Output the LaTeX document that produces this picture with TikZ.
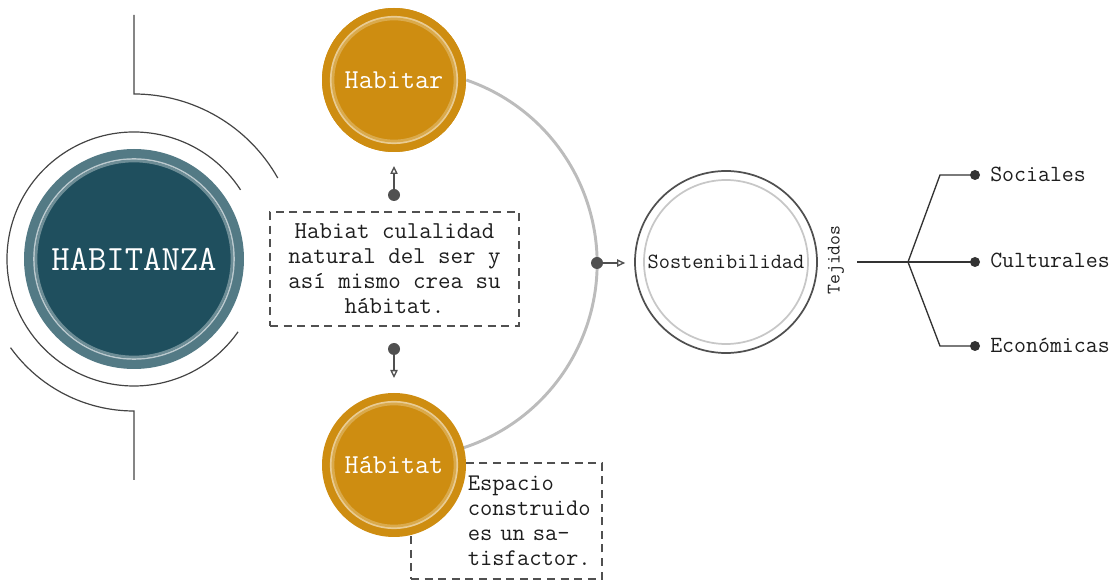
\documentclass[tikz,border=0pt]{standalone}
\usepackage{fontspec}
\usetikzlibrary{arrows.meta,calc}
\definecolor{gold}{RGB}{206,141,17}
\definecolor{tealout}{RGB}{83,122,133}
\definecolor{tealin}{RGB}{31,79,94}
\definecolor{linegray}{RGB}{80,80,80}
\definecolor{arcgray}{RGB}{188,188,188}
\definecolor{txt}{RGB}{30,30,30}
\newcommand\mono[1]{\ttfamily\fontsize{#1}{18.75}\selectfont}
\begin{document}
\begin{tikzpicture}[x=0.75pt,y=-0.75pt,
  thin/.style={draw=linegray!85!black,line width=0.9pt},
  goldc/.style={circle,fill=gold,minimum size=108pt,inner sep=0pt,text=white,font=\mono{20.5}},
  dashbox/.style={draw=linegray,dash pattern=on 6pt off 4.2pt,line width=0.9pt,text=txt},
  conn/.style={draw=linegray,line width=1pt,-{Triangle[open,length=6pt,width=5.5pt]}},
  dotc/.style={fill=linegray},
  arcline/.style={draw=arcgray,line width=2.2pt},
  tree/.style={draw=black!80,line width=1pt},
  leaf/.style={anchor=west,inner sep=0pt,text=txt,font=\mono{17.4}}]
\useasboundingbox (0,0) rectangle (1115,584);

% HABITANZA
\node[circle,fill=tealout,minimum size=165pt,inner sep=0pt] (hab) at (134,259) {};
\fill[tealin] (hab.center) circle[radius=100];
\draw[white!70!tealin,line width=1.2pt] (hab.center) circle[radius=100];
\draw[white!35!tealin,line width=2pt] (hab.center) circle[radius=98];
\node[text=white,font=\mono{26.7}] (habt) at (hab.center) {HABITANZA};
\draw[thin] (hab.center) ++(-33:127) arc[start angle=-33,end angle=-325,radius=127];
\coordinate (topend) at (134,15);
\draw[thin] (topend) -- (134,94) arc[start angle=-90,end angle=-29.4,radius=165];
\coordinate (botend) at (134,480);
\draw[thin] (hab.center) ++(144.3:152) arc[start angle=144.3,end angle=90,radius=152] -- (botend);

% description box
\node[dashbox,minimum width=186.75pt,minimum height=85.5pt,align=center,font=\mono{18.2}] (desc) at (394.5,269)
  {Habiat culalidad\\natural del ser y\\así mismo crea su\\hábitat.};

% Espacio box (behind Habitat circle)
\node[dashbox,minimum width=143.25pt,minimum height=87pt,text width=136pt,inner xsep=3.6pt,font=\mono{17.9}] (esp) at (506.5,521)
  {\leftskip=39pt\relax Espacio\\construido\\es un sa-\\tisfactor.\par};

% grey arc connecting Habitar and Hábitat
\node[goldc] (habitar) at (394,80) {};
\draw[arcline] (habitar.east) arc[start angle=-71,end angle=73,radius=194];

% circles
\node[goldc] (habitar) at (394,80) {Habitar};
\draw[white!55!gold,line width=1.6pt] (habitar.center) circle[radius=63];
\draw[white!25!gold,line width=2pt] (habitar.center) circle[radius=61];
\node[goldc] (habitat) at (394,465) {Hábitat};
\draw[white!55!gold,line width=1.6pt] (habitat.center) circle[radius=63];
\draw[white!25!gold,line width=2pt] (habitat.center) circle[radius=61];

% small arrows around description
\coordinate (d1) at (394,195);
\coordinate (a1) at (394,166);
\coordinate (d2) at (394,349);
\coordinate (a2) at (394,378);
\draw[conn] (d1) -- (a1);
\fill[dotc] (d1) circle[radius=6];
\draw[conn] (d2) -- (a2);
\fill[dotc] (d2) circle[radius=6];

% Sostenibilidad
\node[circle,draw=linegray,line width=1.3pt,minimum size=136.5pt,inner sep=0pt,text=txt,font=\mono{16.3}] (sost) at (726,262) {Sostenibilidad};
\draw[black!22,line width=1.3pt] (sost.center) circle[radius=82];
\coordinate (d3) at (597,263);
\draw[conn] (d3) -- ($(sost.west)+(-9,1)$);
\fill[dotc] (d3) circle[radius=6];

% Tejidos
\node[rotate=90,text=txt,font=\mono{14.4},inner sep=0pt] (tej) at (836,260) {Tejidos};

% tree
\coordinate (t0) at (857,262);
\coordinate (tb) at (908,262);
\coordinate (ds) at (975,175);
\coordinate (dc) at (975,262);
\coordinate (de) at (975,346);
\draw[tree] (t0) -- (tb);
\draw[tree] (tb) -- (940,175) -- (ds);
\draw[tree] (tb) -- (dc);
\draw[tree] (tb) -- (940,346) -- (de);
\fill[black!80] (ds) circle[radius=5] (dc) circle[radius=5] (de) circle[radius=5];
\node[leaf] (soc) at (990,174) {Sociales};
\node[leaf] (cul) at (990,260) {Culturales};
\node[leaf] (eco) at (990,345) {Económicas};
\end{tikzpicture}
\end{document}
